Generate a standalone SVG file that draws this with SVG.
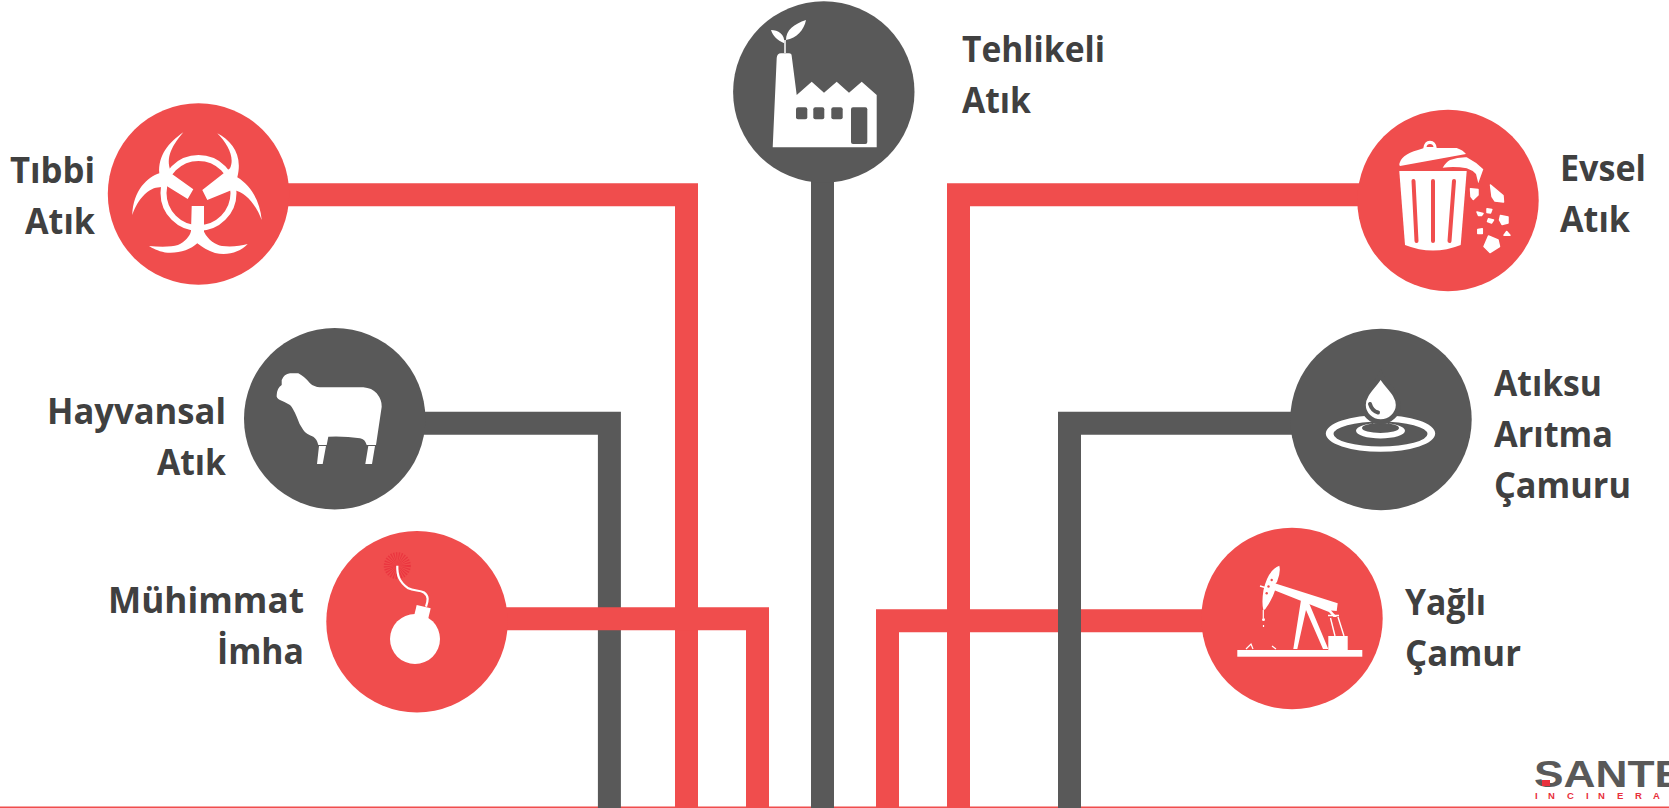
<svg xmlns="http://www.w3.org/2000/svg" width="1669" height="808" viewBox="0 0 1669 808">
<style>
.r{fill:#f04d4d}.g{fill:#595959}.w{fill:#fff}
.rl{fill:none;stroke:#f04d4d;stroke-width:23;stroke-linejoin:miter}
.gl{fill:none;stroke:#595959;stroke-width:23;stroke-linejoin:miter}
.t{font-family:"Open Sans",Lato,sans-serif;font-weight:700;font-size:36px;fill:#404040}
.e{text-anchor:end}
.d{fill:#fff;stroke:#fff;stroke-width:1.5;stroke-linejoin:round}
</style>
<rect width="1669" height="808" fill="#fff"/>
<g id="connectors">
<rect x="0" y="806.5" width="1669" height="1.5" fill="#f04d4d"/>
<path class="gl" d="M420 423.300H609.400V808"/>
<path class="gl" d="M822.500 180V808"/>
<path class="rl" d="M280 194.700H686.500V808"/>
<path class="rl" d="M500 618.800H757.500V808"/>
<path class="rl" d="M1210 620.800H887.500V808"/>
<path class="rl" d="M1360 194.700H958.500V808"/>
<path class="gl" d="M1295 423.300H1069.500V808"/>
</g>
<g id="tibbi"><circle class="r" cx="198.500" cy="194" r="90.700"/>
<circle cx="198.500" cy="193" r="35" fill="none" stroke="#fff" stroke-width="6"/>
<path class="w" d="M183.300 132.300C168 143 158 156 159.300 173.300C148 177 133 190 132.300 215C138 198 150 187 160 187.300L166.700 186L187.700 199L193.300 189.300L172 174C165 160 170 148 183.300 132.300Z"/>
<path class="w" d="M217.300 133.300C232 141 243 155 237.300 177.300C250 185 260 200 261.700 220C256 205 246 192 233 190L230 190.700L207.300 200L202.300 190L230 168.300C235 158 228 144 217.300 133.300Z"/>
<path class="w" d="M191.700 206H204V231.700C208 240 216 245 222 246C232 247 240 246 247.700 244C240 252 228 256 215 253C208 251 202 247 197.300 243.300C190 250 178 254 165 252.500C158 251 152 248 149 246C160 247 172 247 178 245C185 242 190 236 191 231Z"/>
</g>
<g id="tehlikeli"><circle class="g" cx="823.800" cy="92" r="90.700"/>
<path class="w" d="M772.700 147.300L776.700 58Q777 53.300 781 53.300H789Q791.700 53.300 791.700 56L796.700 95L811.700 81.700L824 92.700L836.700 81.700L849 92.700L861.700 81.700L876.700 95V147.300Z"/>
<g class="g"><rect x="796" y="107.300" width="11.300" height="12" rx="2"/><rect x="813.300" y="107.300" width="11" height="12" rx="2"/><rect x="831.300" y="107.300" width="11.400" height="12" rx="2"/><rect x="851" y="107.300" width="16.300" height="36.700" rx="2"/></g>
<path d="M785 53V40" stroke="#fff" stroke-width="1.500" fill="none"/>
<path class="w" d="M784.300 43.300C777 40 773 36 771 30C778 30 785 34 784.300 43.300ZM786 40C786 30 794 24 806 20C804 30 797 38 786 40Z"/>
</g>
<g id="evsel"><circle class="r" cx="1448" cy="200.500" r="90.700"/>
<path class="w" d="M1399.300 165Q1400 155 1418 150L1423.300 148.300Q1424 141 1430 140.700Q1436 141 1436.700 148L1456.700 148Q1463 150 1466 154L1400 166ZM1426.500 147H1433.500Q1433 144 1430 144Q1427 144 1426.500 147Z" fill-rule="evenodd"/>
<path class="w" d="M1399.300 171H1466.700L1460.700 245Q1433 256 1405 245Z"/>
<path d="M1413.500 181L1416.500 241M1433 181V241M1454 181L1449.500 241" stroke="#f04d4d" stroke-width="4" stroke-linecap="round" fill="none"/>
<path class="w" d="M1442.700 167.700Q1446 162 1450 160Q1458 157 1466.700 157.300Q1476 162 1483.300 169.300L1478.300 183.300L1476 174Q1472 170 1466.700 168.300Q1455 166 1442.700 167.700Z"/>
<path class="d" d="M1470.500 188.800L1478 189.500V195L1473.300 199.500L1471 196.500ZM1490.500 185L1503 195.500L1503.500 202L1495 201L1492 196.500ZM1488.500 236L1498 240L1499.500 246.500L1490 252.500L1484 246.500ZM1500.500 215.500L1508 217V223L1502 224.500L1499.500 220ZM1487 208.800L1491.800 209.500L1490.500 213L1487 212.500ZM1477 212L1483 213.500L1481.500 215.500L1478.500 215.500ZM1488.500 218.800L1493.500 220L1491.500 223L1487.500 221.500ZM1477.800 229.500L1482.300 228.800V233.500L1477.800 233.500ZM1506.700 231.500L1510 235.300L1504 235.300Z"/>
</g>
<g id="hayvansal"><circle class="g" cx="334.700" cy="418.700" r="90.700"/>
<path class="w" d="M281.700 380Q284 374 290 373.300H298.300Q304 376 310 383.300Q314 387 320 387.300H363.300Q372 388 376.700 393.300Q382 400 381.700 406.700L376 445H366.700Q365 439 360 438.300Q345 436 328.300 436.700L326.700 445H318.300Q317 439 313.300 436.700Q306 434 303.300 430Q299 424 296.700 416.700Q293 408 290 405Q285 402 280 400Q276 398 276.700 395Q277 388 281.700 385Z"/>
<path class="w" d="M319 446H326L322.700 464H317ZM368.300 446H375L372 464H365.300Z"/>
</g>
<g id="atiksu"><circle class="g" cx="1381" cy="419.500" r="90.700"/>
<path class="w" fill-rule="evenodd" d="M1325.800 433.500a54.700 18.300 0 1 0 109.400 0a54.700 18.300 0 1 0 -109.400 0ZM1333.500 434a47 12.500 0 1 1 94 0a47 12.500 0 1 1 -94 0Z"/>
<path class="w" fill-rule="evenodd" d="M1356 430.700a24.500 7.700 0 1 0 49 0a24.500 7.700 0 1 0 -49 0ZM1362 428a18.500 5 0 1 1 37 0a18.500 5 0 1 1 -37 0Z"/>
<path class="w" stroke="#595959" stroke-width="5" d="M1380.700 375C1385 385 1398.300 393 1398.300 405C1398.300 414 1390 421.700 1380.700 421.700C1371 421.700 1363.300 414 1363.300 405C1363.300 393 1376 385 1380.700 375Z"/>
<path d="M1370 404Q1372 411 1378 412.500" fill="none" stroke="#595959" stroke-width="4" stroke-linecap="round"/>
</g>
<g id="muhimmat"><circle class="r" cx="417" cy="621.700" r="90.700"/>
<circle cx="397.300" cy="565.700" r="7" fill="none" stroke="#e8303c" stroke-width="13" stroke-dasharray="0.800 0.800" opacity=".8"/>
<path d="M397.300 565.700C397 575 399 582 408.300 588.300C414 591 420 590 424 592.500C429 596 428 601 426 606.700" fill="none" stroke="#fff" stroke-width="2.200"/>
<path class="w" d="M416.700 605L430.700 608.300L428.300 618.300L414.300 615Z"/>
<circle class="w" cx="415" cy="639" r="25"/>
</g>
<g id="yagli"><circle class="r" cx="1292" cy="618.500" r="90.700"/>
<path class="w" d="M1279.300 565.700Q1281 572 1277 582L1275.500 583.500L1337.700 603.300L1336.700 611L1331 610.500L1337 617H1333.500L1329 612L1275 590.500Q1272 600 1265 609.500L1263.300 610Q1261.500 602 1263.500 590Q1268 570 1279.300 565.700Z"/>
<path class="w" d="M1301 600L1309 603L1328.300 649H1323L1306 610L1297.300 649H1293.300Z"/>
<rect class="w" x="1237.300" y="650" width="125" height="6.700"/>
<rect class="w" x="1328.300" y="636" width="19.400" height="14"/>
<path d="M1330.500 618L1335 636M1338 617L1344 636M1328 615.500H1339M1260 586L1272 589.500" stroke="#fff" stroke-width="1.400" fill="none"/>
<circle cx="1271.700" cy="580" r="1.200" class="r"/><circle cx="1268.500" cy="586.500" r="1.200" class="r"/><circle cx="1266.700" cy="593.300" r="1.200" class="r"/>
<path d="M1263.300 610V618M1263.500 625V627M1246 649L1251 644L1253 649M1272 646L1276 649" stroke="#fff" stroke-width="1.200" fill="none"/>
<circle class="w" cx="1263.500" cy="619.500" r="1.500"/>
</g>
<g id="logo">
<text x="1534" y="787" font-family="Liberation Sans,sans-serif" font-weight="700" font-size="37" fill="#595959" textLength="150" lengthAdjust="spacingAndGlyphs">SANTE</text>
<rect x="1542" y="780" width="8" height="6" fill="#e8303c"/>
<text x="1535 1548 1567 1586 1598 1617 1635 1653" y="799" font-family="Liberation Sans,sans-serif" font-weight="700" font-size="9.500" fill="#e8303c">INCINERA</text>
</g>
<g id="labels">
<text class="t" x="962" y="62" textLength="143" lengthAdjust="spacingAndGlyphs">Tehlikeli</text>
<text class="t" x="962" y="113" textLength="69" lengthAdjust="spacingAndGlyphs">Atık</text>
<text class="t e" x="95" y="183" textLength="85" lengthAdjust="spacingAndGlyphs">Tıbbi</text>
<text class="t e" x="95" y="234" textLength="70" lengthAdjust="spacingAndGlyphs">Atık</text>
<text class="t" x="1560" y="181" textLength="86" lengthAdjust="spacingAndGlyphs">Evsel</text>
<text class="t" x="1560" y="232" textLength="70" lengthAdjust="spacingAndGlyphs">Atık</text>
<text class="t e" x="226" y="424" textLength="179" lengthAdjust="spacingAndGlyphs">Hayvansal</text>
<text class="t e" x="226" y="475" textLength="69" lengthAdjust="spacingAndGlyphs">Atık</text>
<text class="t" x="1494" y="396" textLength="108" lengthAdjust="spacingAndGlyphs">Atıksu</text>
<text class="t" x="1494" y="447" textLength="119" lengthAdjust="spacingAndGlyphs">Arıtma</text>
<text class="t" x="1494" y="498" textLength="137" lengthAdjust="spacingAndGlyphs">Çamuru</text>
<text class="t e" x="304" y="613" textLength="196" lengthAdjust="spacingAndGlyphs">Mühimmat</text>
<text class="t e" x="304" y="664" textLength="87" lengthAdjust="spacingAndGlyphs">İmha</text>
<text class="t" x="1405" y="615" textLength="81" lengthAdjust="spacingAndGlyphs">Yağlı</text>
<text class="t" x="1405" y="666" textLength="116" lengthAdjust="spacingAndGlyphs">Çamur</text>
</g>
</svg>
